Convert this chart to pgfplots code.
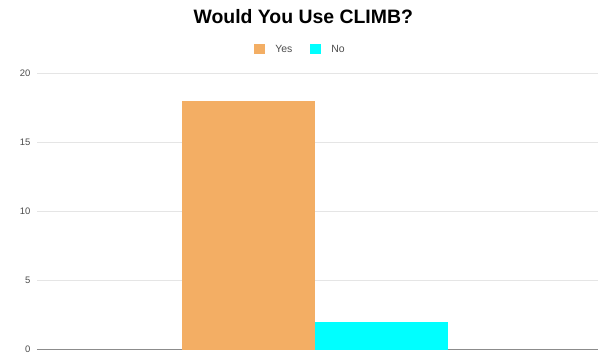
\documentclass[border=0pt]{standalone}
\usepackage{pgfplots}
\pgfplotsset{compat=1.18}
\usepackage{fontspec}
\setmainfont{Liberation Sans}
\usetikzlibrary{calc}
\definecolor{yesc}{RGB}{243,174,100}
\definecolor{noc}{RGB}{0,255,255}
\begin{document}
\begin{tikzpicture}
\begin{axis}[
  name=ax,
  scale only axis,
  width=561bp, height=277bp,
  xmin=-1, xmax=1,
  ymin=0, ymax=20,
  ytick={0,5,10,15,20},
  xtick=\empty,
  axis line style={draw=none},
  major tick length=0pt,
  ymajorgrids,
  grid style={color=black!10, line width=0.6pt},
  extra y ticks={0},
  extra y tick labels={},
  extra y tick style={grid style={color=black!45, line width=0.9pt}},
  yticklabel style={font=\fontsize{9.5}{10}\selectfont, text=black!70, xshift=-3bp},
  /pgf/number format/assume math mode=true,
  ybar, bar shift=0pt, bar width=0.474,
  title={\fontsize{19.5}{21}\selectfont\bfseries Would You Use CLIMB?},
  title style={at={(0.475,1)}, yshift=39.5bp},
  legend style={at={(0.47,1)}, anchor=south, yshift=15bp, draw=none, fill=none,
    legend columns=2, font=\fontsize{10.5}{11}\selectfont, text=black!70,
    /tikz/every odd column/.append style={column sep=8bp},
    /tikz/every even column/.append style={column sep=16bp}},
  legend image code/.code={\fill[#1] (0bp,-5bp) rectangle (11bp,5bp);},
  clip=false,
]
\addplot[fill=yesc, draw=none] coordinates {(-0.246,18)};
\addlegendentry{Yes}
\addplot[fill=noc, draw=none] coordinates {(0.230,2)};
\addlegendentry{No}
\end{axis}
\useasboundingbox ($(ax.south west)+(-37bp,-4bp)$) rectangle ($(ax.north east)+(0,73bp)$);
\end{tikzpicture}
\end{document}
